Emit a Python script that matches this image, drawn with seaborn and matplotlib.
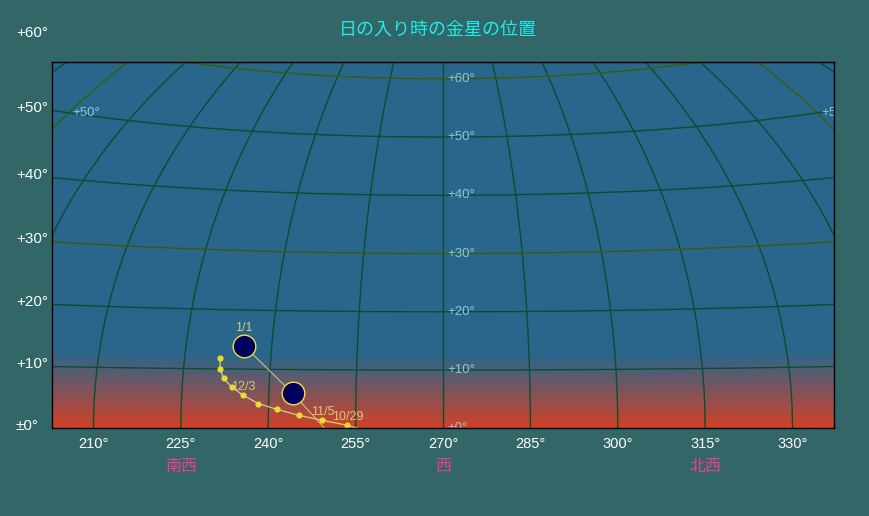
import numpy as np
import pandas as pd
import matplotlib
matplotlib.use("Agg")
import matplotlib.pyplot as plt
import seaborn as sns
from matplotlib.colors import LinearSegmentedColormap
from matplotlib.transforms import blended_transform_factory, ScaledTranslation

# ---------------- data ----------------
title = "日の入り時の金星の位置"
xtick_az = [210, 225, 240, 255, 270, 285, 300, 315, 330]
xtick_labels = ["210°", "225°", "240°", "255°", "270°", "285°", "300°", "315°", "330°"]
dir_az = [225, 270, 315]
dir_labels = ["南西", "西", "北西"]
alt_ticks = [0, 10, 20, 30, 40, 50, 60]
alt_tick_labels = ["±0°", "+10°", "+20°", "+30°", "+40°", "+50°", "+60°"]

# weekly Venus positions at sunset (azimuth, altitude in degrees)
venus_dates = ["10/22", "10/29", "11/5", "11/12", "11/19", "11/26", "12/3",
               "12/10", "12/17", "12/24", "12/31"]
venus_az = [258.5, 253.6, 249.3, 245.3, 241.5, 238.2, 235.6, 233.6, 232.1, 231.3, 231.2]
venus_alt = [-0.9, 0.52, 1.36, 2.2, 3.2, 4.2, 5.6, 6.9, 8.4, 10.0, 11.8]
venus_labelled = ["10/29", "11/5", "12/3"]

# large discs and the line through them
disc_az = [235.1, 244.1]
disc_alt = [14.0, 5.95]
disc_labels = ["1/1", ""]
disc_line_az = [235.1, 244.1, 249.6, 250.6]
disc_line_alt = [14.0, 5.95, 0.1, -1.0]

# ---------------- projection (Aitoff centred on az 270, alt 0) ----------------
def aitoff(az, alt):
    lam = np.radians(np.asarray(az, float) - 270.0)
    phi = np.radians(np.asarray(alt, float))
    alpha = np.arccos(np.clip(np.cos(phi) * np.cos(lam / 2), -1, 1))
    safe = np.where(alpha < 1e-12, 1.0, alpha)
    sinc = np.where(alpha < 1e-12, 1.0, np.sin(safe) / safe)
    x = 2 * np.cos(phi) * np.sin(lam / 2) / sinc
    y = np.sin(phi) / sinc
    return np.degrees(x) + 270.0, np.degrees(y)

# ---------------- figure ----------------
BG = "#336666"
fig = plt.figure(figsize=(8.7, 5.16), dpi=100, facecolor=BG)
ax = fig.add_axes([51.7 / 870, (516 - 428.3) / 516, 782.6 / 870, 366.6 / 516])
XL = (202.83, 337.17)
YL = (0.0, 62.94)
ax.set_xlim(*XL)
ax.set_ylim(*YL)
ax.set_facecolor("#28668c")

# sky gradient as function of altitude
sky = LinearSegmentedColormap.from_list("sky", [
    (0.0, (210/255, 65/255, 40/255)),
    (6.3/90, (126/255, 84/255, 92/255)),
    (12.6/90, (40/255, 102/255, 140/255)),
    (1.0, (40/255, 102/255, 140/255)),
])
AZg, ALg = np.meshgrid(np.linspace(90, 450, 241), np.linspace(0, 90, 361))
PX, PY = aitoff(AZg, ALg)
ax.pcolormesh(PX, PY, ALg, cmap=sky, vmin=0, vmax=90, shading="gouraud", zorder=0)

GREEN = "#065030"
OLIVE = "#3a5c04"
alts_line = np.linspace(0, 90, 300)
for az in range(90, 451, 15):
    px, py = aitoff(np.full_like(alts_line, az), alts_line)
    c = OLIVE if az % 180 == 0 else GREEN
    ax.plot(px, py, color=c, lw=1.0, zorder=1)
az_line = np.linspace(90, 450, 600)
for alt in range(10, 90, 10):
    px, py = aitoff(az_line, np.full_like(az_line, alt))
    c = OLIVE if alt % 30 == 0 else GREEN
    ax.plot(px, py, color=c, lw=1.0, zorder=1)

SANS = ["Liberation Sans", "DejaVu Sans"]
CJK = ["Noto Sans CJK JP", "DejaVu Sans"]

# altitude labels inside (at az 180, 270, 360) - only where the anchor is visible
off = ax.transData + ScaledTranslation(3 / 72, 0, fig.dpi_scale_trans)
for alt in range(0, 90, 10):
    for az in (180, 270, 360):
        px, py = aitoff(az, alt)
        if not (XL[0] <= px <= XL[1] and YL[0] <= py <= YL[1]):
            continue
        ax.text(px, py, f"+{alt}°", transform=off, color="#8cc8dc", fontsize=9.5,
                family=SANS, ha="left", va="center", clip_on=True, zorder=2)

# Venus path
vx, vy = aitoff(venus_az, venus_alt)
dfv = pd.DataFrame({"x": vx, "y": vy, "date": venus_dates})
sns.lineplot(data=dfv, x="x", y="y", sort=False, estimator=None, color="#d6d27c",
             lw=0.9, ax=ax, zorder=3)
sns.scatterplot(data=dfv, x="x", y="y", color="#e6dc34", s=20, linewidth=0, ax=ax, zorder=4)

lx, ly = aitoff(disc_line_az, disc_line_alt)
dfl = pd.DataFrame({"x": lx, "y": ly})
sns.lineplot(data=dfl, x="x", y="y", sort=False, estimator=None, color="#cfcf8a",
             lw=0.7, ax=ax, zorder=3)
dx, dy = aitoff(disc_az, disc_alt)
dfd = pd.DataFrame({"x": dx, "y": dy})
sns.scatterplot(data=dfd, x="x", y="y", color="#00005e", edgecolor="#f0e040",
                linewidth=1.0, s=265, ax=ax, zorder=5)

LBL = "#d8c878"
for d, x, y in zip(venus_dates, vx, vy):
    if d in venus_labelled:
        ax.annotate(d, (x, y), xytext=(0, 5.8), textcoords="offset points",
                    ha="center", va="center", color=LBL, fontsize=9, family=SANS, zorder=6)
for d, x, y in zip(disc_labels, dx, dy):
    if d:
        ax.annotate(d, (x, y), xytext=(0, 12.7), textcoords="offset points",
                    ha="center", va="center", color=LBL, fontsize=9, family=SANS, zorder=6)

# axes styling
for s in ax.spines.values():
    s.set_color("black")
    s.set_linewidth(1.0)
    s.set_zorder(10)
ax.set_xlabel("")
ax.set_ylabel("")
ax.set_yticks([])
ax.set_xticks(xtick_az)
ax.set_xticklabels(xtick_labels, color="white", fontsize=10.5, family=SANS)
ax.tick_params(axis="x", length=0, pad=6.5)

# left altitude labels at the intersection of altitude circles with left edge
def edge_y(alt, xedge):
    lo, hi = 90.0, 270.0
    for _ in range(60):
        mid = 0.5 * (lo + hi)
        if aitoff(mid, alt)[0] < xedge:
            lo = mid
        else:
            hi = mid
    return float(aitoff(0.5 * (lo + hi), alt)[1])

ltr = blended_transform_factory(fig.transFigure, ax.transData) + \
    ScaledTranslation(0, 2.0 / 72, fig.dpi_scale_trans)
for alt, lab in zip(alt_ticks, alt_tick_labels):
    ax.text(16 / 870, edge_y(alt, XL[0]), lab, transform=ltr, color="white",
            fontsize=11, family=SANS, ha="left", va="center", clip_on=False)

# direction labels
dtr = blended_transform_factory(ax.transData, fig.transFigure)
for az, lab in zip(dir_az, dir_labels):
    ax.text(az, 1 - 466 / 516, lab, transform=dtr, color="#f03c8c", fontsize=11.5,
            ha="center", va="center", family=CJK)

fig.text(437.5 / 870, 1 - 30 / 516, title, color="#22eaea", fontsize=13,
         ha="center", va="center", family=CJK)

fig.savefig("out.png", dpi=100, facecolor=BG)
